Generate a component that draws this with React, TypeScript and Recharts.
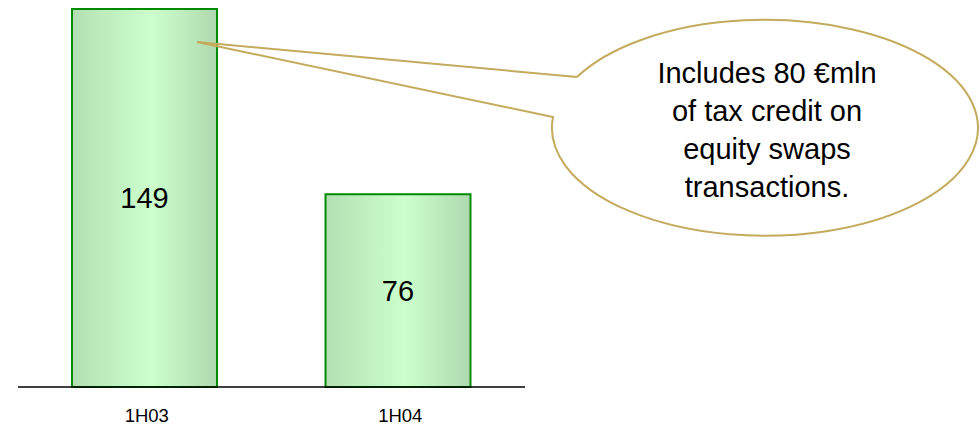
import { BarChart, Bar, XAxis, YAxis, LabelList } from 'recharts'

const periods = ['1H03', '1H04']
const values = [149, 76]
const noteLines = ['Includes 80 €mln', 'of tax credit on', 'equity swaps', 'transactions.']

const data = periods.map((period, i) => ({ period, value: values[i] }))

const font = '"Liberation Sans", Arial, sans-serif'

const Callout = () => (
  <svg
    width={980}
    height={425}
    style={{ position: 'absolute', left: 0, top: 0, pointerEvents: 'none' }}
  >
    <path
      d="M 577 77 L 197 42 L 553 117 A 213 108 0 1 0 577 77"
      fill="none"
      stroke="#c4aa5c"
      strokeWidth={2}
    />
    {noteLines.map((line, i) => (
      <text
        key={line}
        x={767}
        y={83 + i * 38}
        textAnchor="middle"
        fontSize={29}
        fontFamily={font}
        fill="#000"
      >
        {line}
      </text>
    ))}
  </svg>
)

export default function App() {
  return (
    <div style={{ position: 'absolute', left: 0, top: 0, width: 980, height: 425, background: '#fff' }}>
      <BarChart
        width={980}
        height={425}
        data={data}
        margin={{ top: 9, right: 455, left: 18, bottom: 8 }}
        barSize={145}
      >
        <defs>
          <linearGradient id="barFill" x1="0" y1="0" x2="1" y2="0">
            <stop offset="0%" stopColor="#b3e0b3" />
            <stop offset="55%" stopColor="#ccffcc" />
            <stop offset="100%" stopColor="#afd9af" />
          </linearGradient>
        </defs>
        <XAxis
          dataKey="period"
          axisLine={{ stroke: '#000', strokeWidth: 1.5 }}
          tickLine={false}
          tickSize={0}
          tickMargin={22}
          height={30}
          tick={{ fontSize: 18.5, fill: '#000', fontFamily: font, dx: 2 }}
        />
        <YAxis hide domain={[0, 149]} />
        <Bar
          dataKey="value"
          fill="url(#barFill)"
          stroke="#008a00"
          strokeWidth={2}
          isAnimationActive={false}
        >
          <LabelList
            dataKey="value"
            position="center"
            fill="#000"
            fontSize={29}
            fontFamily={font}
          />
        </Bar>
      </BarChart>
      <Callout />
    </div>
  )
}
